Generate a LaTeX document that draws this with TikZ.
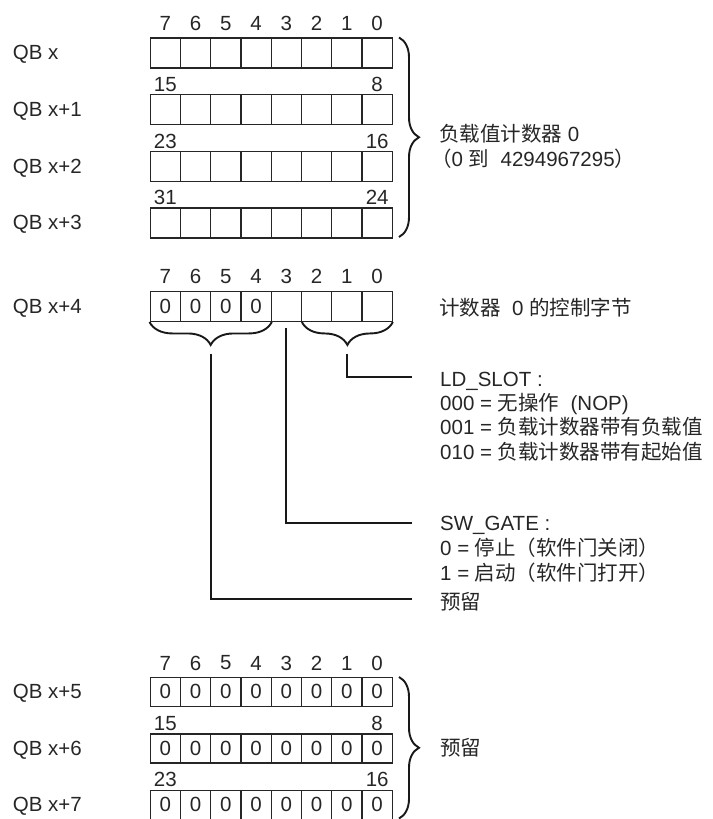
\documentclass[tikz,border=0pt]{standalone}
\usepackage{fontspec}
\setmainfont{Liberation Sans}
\newfontfamily\cjk{Noto Sans CJK SC}
\usetikzlibrary{decorations.pathreplacing,calc}
\newcommand\zhtxt[1]{{\cjk #1}}
\tikzset{
  cell/.style={draw=black!85, line width=1.25pt, minimum width=30.27pt, minimum height=30pt,
    inner sep=0pt, anchor=north west, font=\fontsize{20.5}{24}\selectfont, text=black!85},
  cellb/.style={cell, minimum height=29pt},
  bitn/.style={inner sep=0pt, font=\fontsize{20.5}{24}\selectfont, text=black!85},
  lbl/.style={inner sep=0pt, anchor=base west, font=\fontsize{20.5}{24}\selectfont, text=black!85},
  bigbrace/.style={draw=black!90, line width=1.9pt, decorate, decoration={brace, amplitude=20pt}},
  lowbrace/.style={draw=black!90, line width=1.9pt, decorate, decoration={brace, amplitude=23pt}},
  conn/.style={draw=black!90, line width=1.8pt},
}
\begin{document}
\begin{tikzpicture}[x=1pt, y=-1pt]
\useasboundingbox (0,0) rectangle (712,819);

% ---------- section 1: load value ----------
\foreach \r/\t in {1/37.3, 2/94, 3/150.7, 4/207.3} {
  \foreach \c in {0,...,7} {
    \node[cell] (a\r c\c) at ({149.5+(7-\c)*30.27}, \t) {};
  }
}
\foreach \c in {0,...,7} {
  \node[bitn] (a0n\c) at ($(a1c\c.north)+(0,-14)$) {\c};
}
\foreach \r/\hi/\lo in {2/15/8, 3/23/16, 4/31/24} {
  \node[bitn] (a\r hi) at ($(a\r c7.north)+(0,-9.5)$) {\hi};
  \node[bitn] (a\r lo) at ($(a\r c0.north)+(0,-9.5)$) {\lo};
}
\node[lbl] (qb0) at (12.7, 59.6) {QB x};
\node[lbl] (qb1) at (12.7, 116.3) {QB x+1};
\node[lbl] (qb2) at (12.7, 173.0) {QB x+2};
\node[lbl] (qb3) at (12.7, 229.6) {QB x+3};

\draw[bigbrace] (399,37.5) -- (399,237);
\node[lbl] (lv1) at (439,141.7) {\zhtxt{负载值计数器} 0};
\node[lbl] (lv2) at (431,166.7) {\zhtxt{（}0 \zhtxt{到}\ \ 4294967295\zhtxt{）}};

% ---------- section 2: control byte ----------
\foreach \c in {0,...,7} {
  \pgfmathsetmacro{\z}{\c>3 ? "0" : ""}
  \node[cell] (bc\c) at ({149.5+(7-\c)*30.27}, 290.7) {\z};
  \node[bitn] (bn\c) at ($(bc\c.north)+(0,-14.5)$) {\c};
}
\node[lbl] (qb4) at (12.7, 313.0) {QB x+4};
\node[lbl] (ctl) at (439,315) {\zhtxt{计数器}\ \ 0 \zhtxt{的控制字节}};

\draw[lowbrace] (bc4.south east) -- (bc7.south west);
\draw[lowbrace] (bc0.south east) -- ($(bc2.south west)+(1,0)$);

\coordinate (tipL) at ($(bc6.south east)!0.5!(bc5.south west)+(0,32)$);
\coordinate (tipM) at ($(bc3.south)+(0,6)$);
\coordinate (tipR) at ($(bc1.south)+(0,32)$);

\node[lbl] (ld0) at (440,386) {LD\_SLOT :};
\node[lbl] (ld1) at (440,410.3) {000 = \zhtxt{无操作}\ \ (NOP)};
\node[lbl] (ld2) at (440,434.6) {001 = \zhtxt{负载计数器带有负载值}};
\node[lbl] (ld3) at (440,459) {010 = \zhtxt{负载计数器带有起始值}};

\node[lbl] (sw0) at (440,530.7) {SW\_GATE :};
\node[lbl] (sw1) at (440,555.7) {0 = \zhtxt{停止（软件门关闭）}};
\node[lbl] (sw2) at (440,580.7) {1 = \zhtxt{启动（软件门打开）}};

\node[lbl] (rs0) at (440,609.5) {\zhtxt{预留}};

\coordinate (endR) at (411.7,376.7);
\coordinate (endM) at (411.7,523.3);
\coordinate (endL) at (411.7,599.3);
\draw[conn] (tipR) |- (endR);
\draw[conn] (tipM) |- (endM);
\draw[conn] (tipL) |- (endL);

% ---------- section 3: reserved ----------
\foreach \r/\t in {1/676.7, 2/733.3, 3/789.5} {
  \foreach \c in {0,...,7} {
    \node[cellb] (c\r c\c) at ({149.5+(7-\c)*30.27}, \t) {0};
  }
}
\foreach \c in {0,...,7} {
  \node[bitn] (c0n\c) at ($(c1c\c.north)+(0,-13.7)$) {\c};
}
\foreach \r/\hi/\lo in {2/15/8, 3/23/16} {
  \node[bitn] (c\r hi) at ($(c\r c7.north)+(0,-10)$) {\hi};
  \node[bitn] (c\r lo) at ($(c\r c0.north)+(0,-10)$) {\lo};
}
\node[lbl] (qb5) at (12.7, 698.5) {QB x+5};
\node[lbl] (qb6) at (12.7, 755.0) {QB x+6};
\node[lbl] (qb7) at (12.7, 811.5) {QB x+7};

\draw[bigbrace] (399,677) -- (399,818.5);
\node[lbl] (rs1) at (440,755) {\zhtxt{预留}};
\end{tikzpicture}
\end{document}
